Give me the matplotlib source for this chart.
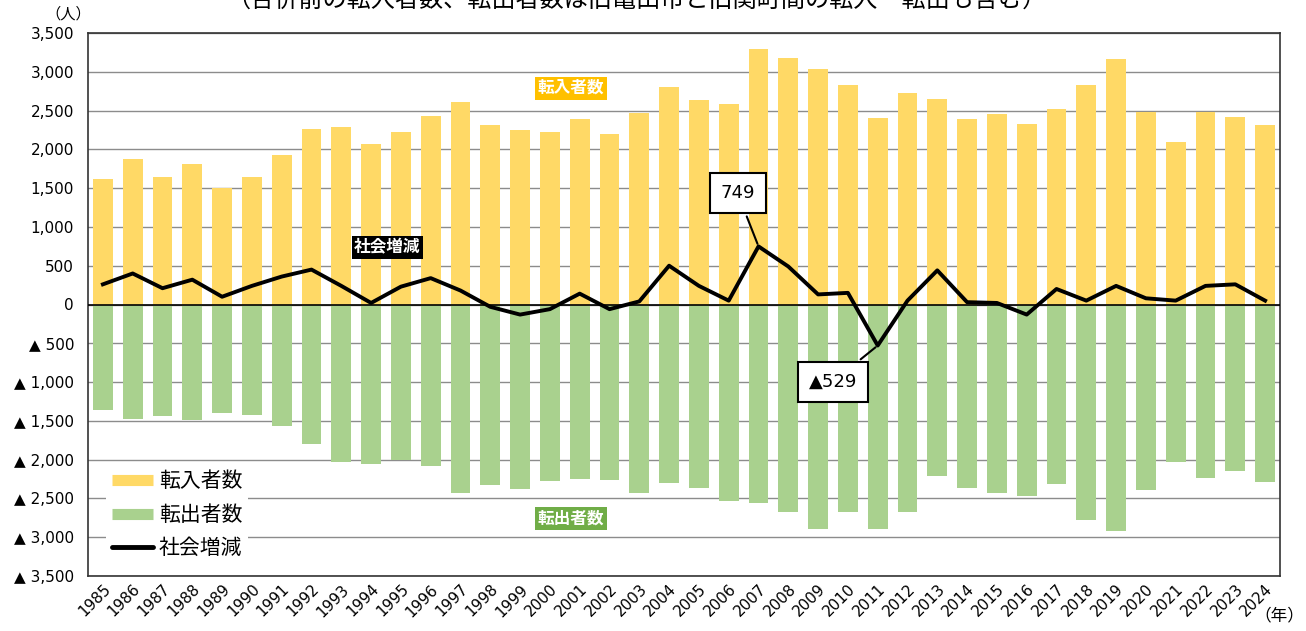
import matplotlib
matplotlib.use("Agg")
import matplotlib.pyplot as plt
import numpy as np
from matplotlib.ticker import FixedLocator
from matplotlib.lines import Line2D

plt.rcParams['font.family'] = ['Noto Sans CJK JP', 'DejaVu Sans']

years = list(range(1985, 2025))
move_in = [1620, 1880, 1650, 1810, 1500, 1650, 1930, 2260, 2290, 2070,
           2220, 2430, 2610, 2310, 2250, 2220, 2390, 2200, 2470, 2810,
           2640, 2590, 3300, 3180, 3030, 2830, 2400, 2730, 2650, 2390,
           2460, 2330, 2520, 2830, 3160, 2480, 2090, 2480, 2420, 2320]
move_out = [1360, 1470, 1435, 1485, 1395, 1420, 1560, 1795, 2030, 2055,
            2000, 2080, 2430, 2325, 2380, 2275, 2250, 2260, 2430, 2300,
            2365, 2530, 2560, 2675, 2895, 2675, 2895, 2675, 2210, 2365,
            2430, 2470, 2315, 2780, 2920, 2390, 2030, 2235, 2145, 2290]
social = [260, 400, 210, 320, 100, 240, 360, 450, 240, 20,
          230, 340, 180, -30, -130, -60, 140, -60, 40, 500,
          240, 50, 749, 490, 130, 150, -529, 50, 440, 30,
          20, -130, 200, 50, 240, 80, 50, 240, 260, 50]
yticks = list(range(-3500, 3501, 500))

c_in = '#FFD966'
c_out = '#A9D18E'

fig = plt.figure(figsize=(13.06, 6.31), dpi=100)
ax = fig.add_axes([88/1306, 1-576/631, (1280-88)/1306, (576-33)/631])

x = np.arange(len(years))
ax.bar(x, move_in, width=0.66, color=c_in, zorder=2)
ax.bar(x, [-v for v in move_out], width=0.66, color=c_out, zorder=2)
ax.plot(x, social, color='black', lw=2.8, zorder=4)
ax.axhline(0, color='black', lw=1.2, zorder=3)

ax.set_xlim(-0.5, len(years)-0.5)
ax.set_ylim(-3500, 3500)
ax.yaxis.set_major_locator(FixedLocator(yticks))
def fmt(v):
    if v < 0:
        return '▲ {:,}'.format(-v)
    return '{:,}'.format(v)
ax.set_yticklabels([fmt(v) for v in yticks], fontsize=11, family=['DejaVu Sans'])
ax.grid(axis='y', color='#8c8c8c', lw=1, zorder=0)
ax.set_axisbelow(True)
ax.tick_params(axis='y', length=0, pad=10)
ax.set_xticks(x)
ax.set_xticklabels([str(y) for y in years], rotation=45, ha='right',
                   rotation_mode='anchor', fontsize=11, family=['DejaVu Sans'])
ax.tick_params(axis='x', length=0, pad=4)
for s in ax.spines.values():
    s.set_color('#333333')
    s.set_linewidth(1.2)

# legend
handles = [Line2D([], [], color=c_in, lw=8, solid_capstyle='butt'),
           Line2D([], [], color=c_out, lw=8, solid_capstyle='butt'),
           Line2D([], [], color='black', lw=3.5, solid_capstyle='round')]
labels = ['転入者数', '転出者数', '社会増減']
leg = ax.legend(handles, labels, loc='lower left', bbox_to_anchor=(0.006, 0.0),
                frameon=True, fontsize=15, handlelength=2.0, handletextpad=0.25,
                labelspacing=0.55, borderpad=0.3)
leg.get_frame().set_edgecolor('none')
leg.get_frame().set_facecolor('white')
leg.get_frame().set_alpha(1)

# labels
ax.text(15.7, 2790, '転入者数', color='white', fontsize=12, fontweight='bold',
        ha='center', va='center', zorder=6,
        bbox=dict(boxstyle='square,pad=0.15', fc='#FFC000', ec='none'))
ax.text(15.7, -2760, '転出者数', color='white', fontsize=12, fontweight='bold',
        ha='center', va='center', zorder=6,
        bbox=dict(boxstyle='square,pad=0.15', fc='#70AD47', ec='none'))
ax.text(9.55, 740, '社会増減', color='white', fontsize=12, fontweight='bold',
        ha='center', va='center', zorder=6,
        bbox=dict(boxstyle='square,pad=0.15', fc='black', ec='none'))

# callouts
i07 = years.index(2007)
ax.annotate('749', xy=(i07, social[i07]), xytext=(i07-0.7, 1434),
            fontsize=13, ha='center', va='center', zorder=7, family=['DejaVu Sans'],
            bbox=dict(boxstyle='square,pad=0.6', fc='white', ec='black', lw=1.5),
            arrowprops=dict(arrowstyle='-', color='black', lw=1.5))
i11 = years.index(2011)
ax.annotate('▲529', xy=(i11, social[i11]), xytext=(i11-1.5, -995),
            fontsize=13, ha='center', va='center', zorder=7, family=['DejaVu Sans'],
            bbox=dict(boxstyle='square,pad=0.6', fc='white', ec='black', lw=1.5),
            arrowprops=dict(arrowstyle='-', color='black', lw=1.5))

fig.text(68/1306, 1-14/631, '（人）', fontsize=11, ha='center', va='center')
fig.text(1279/1306, 1-616/631, '（年）', fontsize=12, ha='center', va='center')
fig.text(636/1306, 1-1/631, '（合併前の転入者数、転出者数は旧亀山市と旧関町間の転入・転出も含む）',
         fontsize=17.4, ha='center', va='center')

fig.savefig('out.png', dpi=100)
